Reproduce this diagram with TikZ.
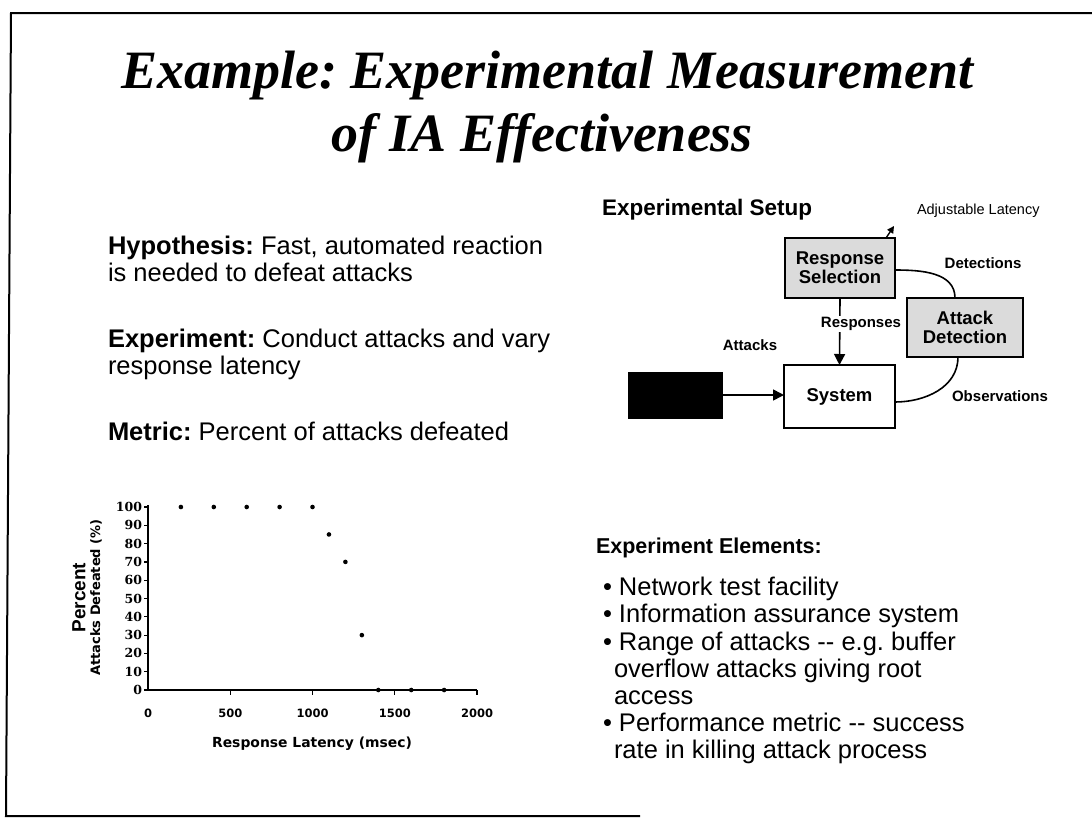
\documentclass[tikz,border=0pt]{standalone}
\usepackage{fontspec}
\setmainfont{Liberation Sans}
\newfontfamily\titlefont{Liberation Serif}
\newfontfamily\tickserif{DejaVu Serif}
\newfontfamily\ticksans{DejaVu Sans}
\usetikzlibrary{arrows.meta}
\frenchspacing
\newcommand{\dhy}{-{}-}

\tikzset{
  every node/.style={inner sep=0pt, outer sep=0pt},
  titletext/.style={anchor=base, font=\titlefont\bfseries\itshape\fontsize{54}{54}\selectfont},
  bodytext/.style={anchor=base west, font=\fontsize{25.5}{27}\selectfont},
  headtext/.style={anchor=base west, font=\bfseries\fontsize{21.5}{24}\selectfont},
  blockbox/.style={draw, line width=2.4pt, align=center, font=\bfseries\fontsize{18.5}{19}\selectfont},
  flowlabel/.style={font=\bfseries\fontsize{15}{16}\selectfont},
  flowline/.style={line width=1.6pt},
  flowarrow/.style={line width=1.6pt, -{Triangle[length=11pt,width=11pt]}},
  axisline/.style={line width=1.8pt},
  datapoint/.style={fill=black},
}

\begin{document}
\begin{tikzpicture}[x=1pt, y=-1pt]
\useasboundingbox (0,0) rectangle (1092,836);

% slide frame (open on the right)
\draw[line width=2pt] (1092,13) -- (11,13) -- (6,816) -- (640,816);

% title
\node[titletext] (title1) at (547,88) {Example: Experimental Measurement};
\node[titletext] (title2) at (542,151) {of IA Effectiveness};

% left column text
\node[bodytext] (hyp1) at (108,254) {\textbf{Hypothesis:} Fast, automated reaction};
\node[bodytext] (hyp2) at (108,281) {is needed to defeat attacks};
\node[bodytext] (exp1) at (108,347) {\textbf{Experiment:} Conduct attacks and vary};
\node[bodytext] (exp2) at (108,374) {response latency};
\node[bodytext] (met)  at (108,440) {\textbf{Metric:} Percent of attacks defeated};

% experimental setup diagram
\node[anchor=base west, font=\bfseries\fontsize{22.5}{24}\selectfont] (setup) at (602,215) {Experimental Setup};
\node[anchor=base west, font=\fontsize{14.5}{16}\selectfont] (latency) at (917,214) {Adjustable Latency};

\node[blockbox, fill=black!14, minimum width=110pt, minimum height=60pt] (rs) at (840,268) {Response\\Selection};
\node[blockbox, fill=black!14, minimum width=116pt, minimum height=59pt] (ad) at (965,327.5) {Attack\\Detection};
\node[blockbox, fill=white, minimum width=111pt, minimum height=63pt] (sys) at (839.5,396.5) {System};
\node[draw, line width=1pt, fill=black, minimum width=94pt, minimum height=46pt] (src) at (675,395) {};

\coordinate (lat) at (894,226);
\draw[line width=1.4pt, -{Triangle[length=7pt,width=7pt]}] ([xshift=-9pt]rs.north east) -- (lat);

\draw[flowarrow] (src.east) -- (src.east -| sys.west);
\draw[flowarrow] (rs.south) -- (sys.north);
\draw[flowline] ([yshift=-2pt]rs.east) to[out=0, in=90] ([xshift=-10pt]ad.north);
\draw[flowline] ([xshift=-7pt]ad.south) to[out=-90, in=0] ([yshift=-5.5pt]sys.east);

\node[flowlabel, fill=white, inner sep=1pt] (resp) at (861,324) {Responses};
\node[flowlabel] (atk) at (750,345) {Attacks};
\node[flowlabel] (det) at (983,263) {Detections};
\node[flowlabel] (obs) at (1000,396) {Observations};

% experiment elements
\node[headtext] (elem) at (596,553) {Experiment Elements:};
\node[bodytext] (b1) at (603,595) {\textbullet\ Network test facility};
\node[bodytext] (b2) at (603,622) {\textbullet\ Information assurance system};
\node[bodytext] (b3) at (603,650) {\textbullet\ Range of attacks \dhy\ e.g. buffer};
\node[bodytext] (b3b) at (614,677) {overflow attacks giving root};
\node[bodytext] (b3c) at (614,704) {access};
\node[bodytext] (b4) at (603,731) {\textbullet\ Performance metric \dhy\ success};
\node[bodytext] (b4b) at (614,758) {rate in killing attack process};

% chart: response latency vs. percent of attacks defeated
\begin{scope}[shift={(148,690)}, x=0.1645pt, y=1.83pt]
  \draw[axisline] (0,0) -- (0,101);
  \draw[axisline] (0,0) -- (2000,0);
  \foreach \v in {0,10,...,100} {
    \draw[line width=1.2pt] (0,\v) -- ++(-4pt,0);
    \node[anchor=east, font=\tickserif\bfseries\fontsize{12.5}{13}\selectfont] at (-36,\v) {\v};
  }
  \foreach \v in {500,1000,1500,2000} {
    \draw[line width=1.2pt] (\v,0) -- ++(0,-5pt);
  }
  \foreach \v in {0,500,1000,1500,2000} {
    \node[font=\ticksans\bfseries\fontsize{11.5}{12}\selectfont] at (\v,-12.6) {\v};
  }
  \foreach \px/\py in {200/100,400/100,600/100,800/100,1000/100,1100/85,1200/70,1300/30,1400/0,1600/0,1800/0} {
    \fill[datapoint] (\px,\py) circle (2.3pt);
  }
  \node[font=\ticksans\bfseries\fontsize{13.9}{14}\selectfont] (xlab) at (997,-29.5) {Response Latency (msec)};
  \node[rotate=90, font=\ticksans\bfseries\fontsize{13}{14}\selectfont] (ylab) at (-316,50.5) {Attacks Defeated (\%)};
  \node[rotate=90, font=\bfseries\fontsize{19}{20}\selectfont] (ylab2) at (-420,50.5) {Percent};
\end{scope}
\end{tikzpicture}
\end{document}
